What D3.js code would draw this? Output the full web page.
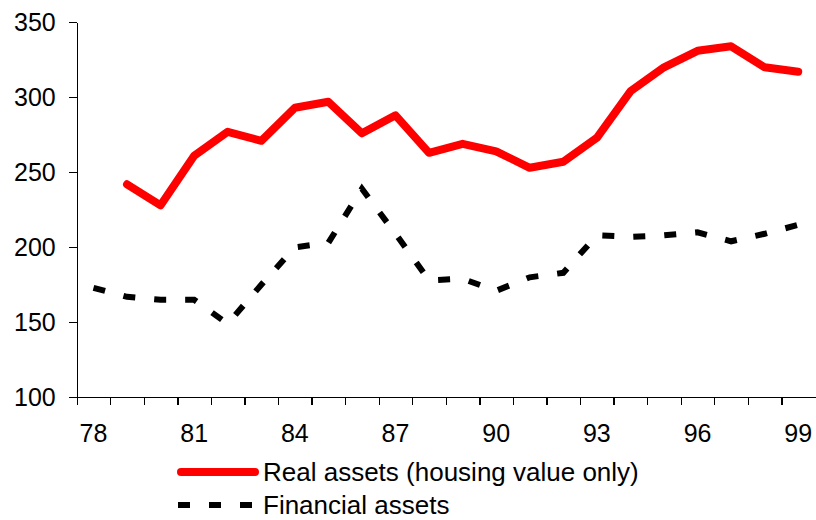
<!DOCTYPE html>
<html>
<head>
<meta charset="utf-8">
<script src="https://cdn.jsdelivr.net/npm/d3@7"></script>
<style>
  body { margin: 0; background: #fff; }
  svg text { font-family: "Liberation Sans", Arial, sans-serif; fill: #000; }
  .axis path, .axis line { stroke: #000; stroke-width: 1.3; shape-rendering: crispEdges; }
</style>
</head>
<body>
<svg width="816" height="520"></svg>
<script>
var years = [78, 79, 80, 81, 82, 83, 84, 85, 86, 87, 88, 89, 90, 91, 92, 93, 94, 95, 96, 97, 98, 99];
var yearLabels = [78, 81, 84, 87, 90, 93, 96, 99];
var realAssets = [null, 242, 228, 261, 277, 271, 293, 297, 276, 288, 263, 269, 264, 253, 257, 273, 304, 320, 331, 334, 320, 317];
var financialAssets = [173, 167, 165, 165, 149, 175, 200, 203, 239, 209, 178, 179, 171, 180, 183, 208, 207, 208, 210, 204, 209, 215];
var yTicks = [100, 150, 200, 250, 300, 350];

var svg = d3.select("svg"),
    plotLeft = 76.7, plotRight = 815, plotTop = 22.3, plotBottom = 397.3;

var x = d3.scaleBand().domain(years).range([plotLeft, plotRight]),
    xEdge = d3.scaleLinear().domain([0, years.length]).range([plotLeft, plotRight]),
    y = d3.scaleLinear().domain([100, 350]).range([plotBottom, plotTop]);

// y axis
svg.append("g")
    .attr("class", "axis")
    .attr("transform", "translate(" + plotLeft + ",0)")
    .call(d3.axisLeft(y).tickValues(yTicks).tickSize(8).tickSizeOuter(0).tickPadding(13))
    .call(function(g) { g.selectAll("text").attr("font-size", 25).attr("font-family", null); });

// x axis: tick marks between categories
svg.append("g")
    .attr("class", "axis")
    .attr("transform", "translate(0," + plotBottom + ")")
    .call(d3.axisBottom(xEdge).tickValues(d3.range(0, years.length)).tickSize(8).tickSizeOuter(0).tickFormat(""));

// x labels every 3 years
svg.append("g")
    .attr("transform", "translate(0," + plotBottom + ")")
    .call(d3.axisBottom(x).tickValues(yearLabels).tickSize(0).tickPadding(27))
    .call(function(g) { g.select(".domain").remove(); })
    .call(function(g) { g.selectAll("text").attr("font-size", 25).attr("font-family", null); });

var line = d3.line()
    .defined(function(d) { return d.v !== null; })
    .x(function(d) { return x(d.year) + x.bandwidth() / 2; })
    .y(function(d) { return y(d.v); });

function series(values) {
    return years.map(function(yr, i) { return {year: yr, v: values[i]}; });
}

svg.append("path")
    .datum(series(financialAssets))
    .attr("d", line)
    .attr("fill", "none")
    .attr("stroke", "#000")
    .attr("stroke-width", 6)
    .attr("stroke-dasharray", "12,19");

svg.append("path")
    .datum(series(realAssets))
    .attr("d", line)
    .attr("fill", "none")
    .attr("stroke", "#ff0000")
    .attr("stroke-width", 8)
    .attr("stroke-linejoin", "round")
    .attr("stroke-linecap", "round");

// legend
var legend = [
    {label: "Real assets (housing value only)", color: "#ff0000", width: 8, dash: null, y: 472},
    {label: "Financial assets", color: "#000", width: 6, dash: "12,19", y: 505}
];
var lg = svg.selectAll(".legend").data(legend).enter().append("g").attr("class", "legend");
lg.append("line")
    .attr("x1", function(d) { return d.dash ? 178 : 181; })
    .attr("x2", function(d) { return d.dash ? 258 : 255; })
    .attr("y1", function(d) { return d.y; })
    .attr("y2", function(d) { return d.y; })
    .attr("stroke", function(d) { return d.color; })
    .attr("stroke-width", function(d) { return d.width; })
    .attr("stroke-dasharray", function(d) { return d.dash; })
    .attr("stroke-linecap", function(d) { return d.dash ? "butt" : "round"; });
lg.append("text")
    .attr("x", 263)
    .attr("y", function(d) { return d.y; })
    .attr("dy", "0.35em")
    .attr("font-size", 26)
    .text(function(d) { return d.label; });
</script>
</body>
</html>
